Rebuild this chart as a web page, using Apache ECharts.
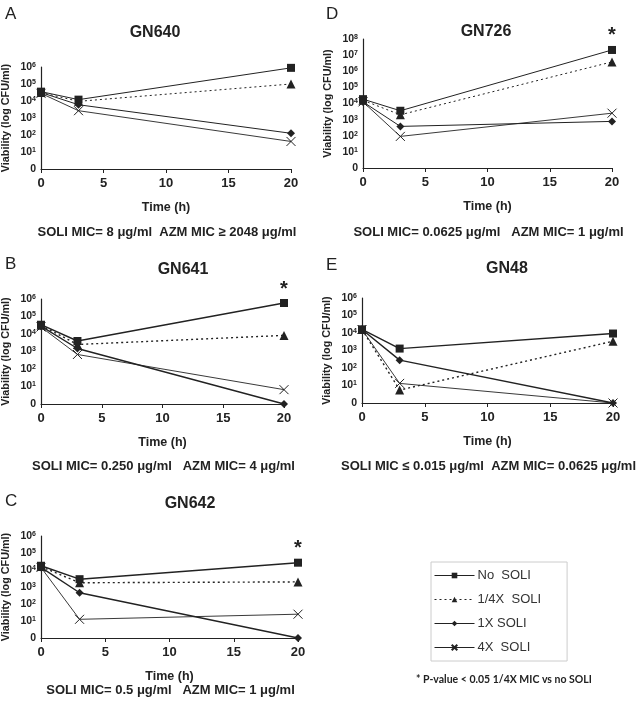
<!DOCTYPE html>
<html>
<head>
<meta charset="utf-8">
<script src="https://cdn.jsdelivr.net/npm/echarts@6/dist/echarts.min.js"></script>
<style>
html,body{margin:0;padding:0;background:#fff}
#chart{width:640px;height:705px}
</style>
</head>
<body>
<div id="chart"></div>
<script>
// time points (h)
var times = [0, 3, 20];
var seriesNames = ['No  SOLI', '1/4X  SOLI', '1X SOLI', '4X  SOLI'];

// values in log10 CFU/ml (0 = no growth), order: No SOLI, 1/4X, 1X, 4X
var gn640 = [[4.55, 4.08, 5.95], [4.5, 3.98, 5.0], [4.5, 3.78, 2.1], [4.45, 3.43, 1.62]];
var gn641 = [[4.53, 3.6, 5.77], [4.5, 3.4, 3.92], [4.45, 3.17, 0], [4.4, 2.83, 0.82]];
var gn642 = [[4.25, 3.46, 4.43], [4.2, 3.25, 3.3], [4.15, 2.66, 0], [4.15, 1.1, 1.4]];
var gn726 = [[4.27, 3.55, 7.32], [4.2, 3.3, 6.58], [4.1, 2.58, 2.89], [4.1, 1.96, 3.4]];
var gn48 = [[4.21, 3.11, 3.97], [4.2, 0.74, 3.53], [4.2, 2.45, 0], [4.2, 1.12, 0]];

var panels = [
  {letter:'A', title:'GN640', data:gn640, star:false, yMax:6, left:41, width:250, top:67, height:102,
   titleX:155, titleY:33, note:'SOLI MIC= 8 \u03bcg/ml  AZM MIC \u2265 2048 \u03bcg/ml', noteY:232, lw:1},
  {letter:'B', title:'GN641', data:gn641, star:true, yMax:6, left:41, width:243, top:299, height:105,
   titleX:183, titleY:270, note:'SOLI MIC= 0.250 \u03bcg/ml   AZM MIC= 4 \u03bcg/ml', noteY:466, lw:1.4},
  {letter:'C', title:'GN642', data:gn642, star:true, yMax:6, left:41, width:257, top:536, height:102,
   titleX:190, titleY:504, note:'SOLI MIC= 0.5 \u03bcg/ml   AZM MIC= 1 \u03bcg/ml', noteY:690, lw:1.4},
  {letter:'D', title:'GN726', data:gn726, star:true, yMax:8, left:363, width:249, top:39, height:129,
   titleX:486, titleY:32, note:'SOLI MIC= 0.0625 \u03bcg/ml   AZM MIC= 1 \u03bcg/ml', noteY:232, lw:1},
  {letter:'E', title:'GN48', data:gn48, star:false, yMax:6, left:362, width:251, top:298, height:105,
   titleX:507, titleY:269, note:'SOLI MIC \u2264 0.015 \u03bcg/ml  AZM MIC= 0.0625 \u03bcg/ml', noteY:466, lw:1.4}
];

var letterPos = {A:[5, 6], B:[5, 256], C:[5, 493], D:[326, 6], E:[326, 257]};
var ink = '#222';
var symbols = ['rect', 'triangle', 'diamond', 'path://M0,0L10,10M10,0L0,10'];
var symbolSizes = [8, 9, 8, 9];
var lineTypes = ['solid', [2, 3], 'solid', 'solid'];

var grids = [], xAxes = [], yAxes = [], series = [], graphics = [];

panels.forEach(function(p, i){
  grids.push({left:p.left, top:p.top, width:p.width, height:p.height});
  xAxes.push({
    type:'value', gridIndex:i, min:0, max:20, interval:5,
    name:'Time (h)', nameLocation:'middle', nameGap:32,
    nameTextStyle:{fontSize:12.5, fontWeight:'bold', color:ink, fontFamily:'Liberation Sans'},
    axisLine:{lineStyle:{color:ink, width:1.2}},
    axisTick:{length:4, lineStyle:{color:ink}},
    axisLabel:{fontSize:13, fontWeight:'bold', color:ink, fontFamily:'Liberation Sans', margin:8},
    splitLine:{show:false}
  });
  yAxes.push({
    type:'value', gridIndex:i, min:0, max:p.yMax, interval:1,
    name:'Viability (log CFU/ml)', nameLocation:'middle', nameGap:29,
    nameTextStyle:{fontSize:10.8, fontWeight:'bold', color:ink, fontFamily:'Liberation Sans'},
    axisLine:{show:true, lineStyle:{color:ink, width:1.2}},
    axisTick:{show:false},
    axisLabel:{color:ink, margin:5,
      formatter:function(v){ return v === 0 ? '{b|0}' : '{b|10}{s|' + v + '}'; },
      rich:{
        b:{fontSize:10.5, fontWeight:'bold', color:ink, fontFamily:'Liberation Sans'},
        s:{fontSize:7, fontWeight:'bold', color:ink, fontFamily:'Liberation Sans', verticalAlign:'top', padding:[0, 0, 4, 0]}
      }},
    splitLine:{show:false}
  });
  p.data.forEach(function(vals, k){
    var pts = times.map(function(t, j){
      var item = {value:[t, vals[j]]};
      if (k === 0 && p.star && j === 2) {
        item.label = {show:true, formatter:'*', position:'top', distance:0,
          fontSize:20, fontWeight:'bold', color:ink, fontFamily:'Liberation Sans'};
      }
      return item;
    });
    var isX = k === 3;
    series.push({
      type:'line', name:seriesNames[k], xAxisIndex:i, yAxisIndex:i,
      data:pts, symbol:symbols[k], symbolSize:symbolSizes[k],
      showSymbol:true, animation:false, z:10 - k,
      lineStyle:{color:ink, width:isX ? 0.9 : p.lw, type:lineTypes[k]},
      itemStyle: isX ? {color:'#fff', borderColor:ink, borderWidth:1} : {color:ink},
      emphasis:{disabled:true}
    });
  });
  // panel letter, title and MIC note
  var lp = letterPos[p.letter];
  graphics.push({type:'text', left:lp[0], top:lp[1],
    style:{text:p.letter, fontSize:17, fill:ink, fontFamily:'Liberation Sans'}});
  graphics.push({type:'text', x:p.titleX, y:p.titleY,
    style:{text:p.title, fontSize:16, fontWeight:'bold', fill:ink, fontFamily:'Liberation Sans',
      textAlign:'center', textVerticalAlign:'middle'}});
  graphics.push({type:'text', x:p.left + p.width / 2 + 1, y:p.noteY,
    style:{text:p.note, fontSize:13, fontWeight:'bold', fill:ink, fontFamily:'Liberation Sans',
      textAlign:'center', textVerticalAlign:'middle'}});
});

graphics.push({type:'text', x:416, y:680,
  style:{text:'* P-value < 0.05 1/4X MIC vs no SOLI', fontSize:10.5, fontWeight:'bold', fill:ink,
    fontFamily:'Lato', textVerticalAlign:'middle'}});

var legendData = seriesNames.map(function(n, k){
  return {name:n, lineStyle:{width:1, type:lineTypes[k], color:ink}};
});

var chart = echarts.init(document.getElementById('chart'));
chart.setOption({
  animation:false,
  backgroundColor:'#fff',
  grid:grids,
  xAxis:xAxes,
  yAxis:yAxes,
  series:series,
  graphic:graphics,
  legend:{
    data:legendData, orient:'vertical', left:431, top:562,
    padding:[7, 26, 7, 3], itemGap:11, itemWidth:40, itemHeight:7,
    borderColor:'#ccc', borderWidth:1,
    selectedMode:false,
    textStyle:{fontSize:13, color:'#333', fontFamily:'Liberation Sans', padding:[0, 0, 0, -2]}
  }
});
</script>
</body>
</html>
